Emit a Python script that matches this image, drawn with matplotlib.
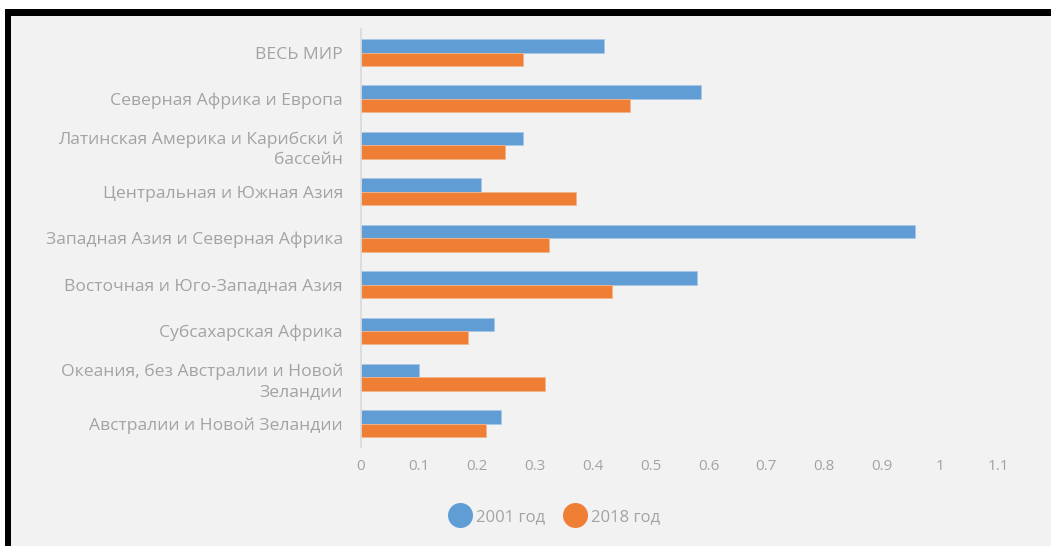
import matplotlib
matplotlib.use("Agg")
import matplotlib.pyplot as plt
from matplotlib.lines import Line2D
from matplotlib.patches import Rectangle
import numpy as np

categories = [
    "ВЕСЬ МИР",
    "Северная Африка и Европа",
    "Латинская Америка и Карибски й\nбассейн",
    "Центральная и Южная Азия",
    "Западная Азия и Северная Африка",
    "Восточная и Юго-Западная Азия",
    "Субсахарская Африка",
    "Океания, без Австралии и Новой\nЗеландии",
    "Австралии и Новой Зеландии",
]
values_2001 = [0.42, 0.587, 0.279, 0.208, 0.956, 0.580, 0.230, 0.100, 0.241]
values_2018 = [0.279, 0.464, 0.249, 0.371, 0.325, 0.433, 0.185, 0.317, 0.216]
series_names = ["2001 год", "2018 год"]
xticks = [0, 0.1, 0.2, 0.3, 0.4, 0.5, 0.6, 0.7, 0.8, 0.9, 1.0, 1.1]
xtick_labels = ["0", "0.1", "0.2", "0.3", "0.4", "0.5", "0.6", "0.7", "0.8", "0.9", "1", "1.1"]

BLUE = "#5f9dd4"
ORANGE = "#ef7f34"
TEXT = "#a3a3a3"
BG = "#f2f2f2"

plt.rcParams["font.family"] = ["Open Sans", "DejaVu Sans"]

W, H = 1051, 546
fig = plt.figure(figsize=(W / 100, H / 100), dpi=100)
fig.patch.set_facecolor("white")

# gray panel and black frame (top and left)
fig.patches.append(Rectangle((5 / W, 0), 1 - 5 / W, 1 - 9 / H, transform=fig.transFigure,
                             facecolor=BG, edgecolor="none", zorder=-10))
fig.patches.append(Rectangle((5 / W, 1 - 15.5 / H), 1 - 5 / W, 6.5 / H, transform=fig.transFigure,
                             facecolor="black", edgecolor="none", zorder=-5))
fig.patches.append(Rectangle((5 / W, 0), 6 / W, 1 - 9 / H, transform=fig.transFigure,
                             facecolor="black", edgecolor="none", zorder=-5))

ax = fig.add_axes([361 / W, 1 - 447 / H, 637 / W, (447 - 29.3) / H])
ax.set_facecolor("none")

y = np.arange(len(categories))
h = 0.29
ax.barh(y - h / 2, values_2001, height=h, color=BLUE, edgecolor="#a9c8e8", linewidth=0.6)
ax.barh(y + h / 2, values_2018, height=h, color=ORANGE, edgecolor="#f3b48a", linewidth=0.6)

ax.set_ylim(len(categories) - 0.5, -0.5)
ax.set_xlim(0, 1.1)
ax.set_yticks(y)
ax.set_yticklabels(categories, fontsize=12.6, color=TEXT, linespacing=1.4)
ax.set_xticks(xticks)
ax.set_xticklabels(xtick_labels, fontsize=11, color=TEXT)
ax.tick_params(axis="y", length=0, pad=13)
ax.tick_params(axis="x", length=0, pad=9)

for s in ["top", "right", "bottom"]:
    ax.spines[s].set_visible(False)
ax.spines["left"].set_color("#d9d9d9")
ax.spines["left"].set_linewidth(1.2)

handles = [Line2D([], [], linestyle="none", marker="o", markersize=17, color=BLUE),
           Line2D([], [], linestyle="none", marker="o", markersize=17, color=ORANGE)]
leg = fig.legend(handles, series_names, loc="center", bbox_to_anchor=(556 / W, 1 - 517 / H),
                 ncol=2, frameon=False, fontsize=12, handletextpad=0.45, columnspacing=1.3,
                 handlelength=1.0)
for t in leg.get_texts():
    t.set_color(TEXT)

fig.savefig("out.png", dpi=100, facecolor=fig.get_facecolor())
